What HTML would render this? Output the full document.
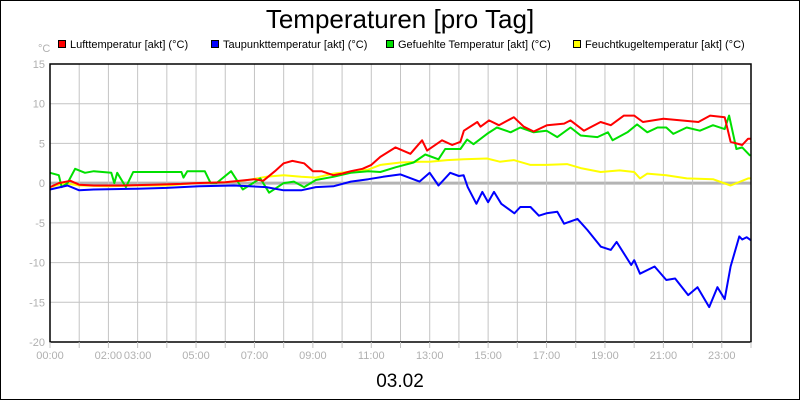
<!DOCTYPE html>
<html><head><meta charset="utf-8"><style>
html,body{margin:0;padding:0;background:#fff}
svg{display:block;font-family:"Liberation Sans",sans-serif}
</style></head><body>
<svg id="chart" width="800" height="400" viewBox="0 0 800 400" xmlns="http://www.w3.org/2000/svg">
<rect x="0.5" y="0.5" width="799" height="399" fill="#fff" stroke="#000"/>
<text x="400" y="28" font-size="26" text-anchor="middle">Temperaturen [pro Tag]</text>
<text x="38" y="52" font-size="11" fill="#b0b0b0">°C</text>
<g id="legend"></g>
<g id="grid"></g>
<g id="series"></g>
<rect x="50" y="64" width="701" height="278" fill="none" stroke="#000" stroke-width="1.5"/>
<g id="axes"></g>
<text x="400" y="387" font-size="19" text-anchor="middle">03.02</text>
</svg>
<script>
const yTicks = [15, 10, 5, 0, -5, -10, -15, -20];
const xTickLabels = ["00:00","","02:00","03:00","","05:00","","07:00","","09:00","","11:00","","13:00","","15:00","","17:00","","19:00","","21:00","","23:00",""];
const seriesNames = ["Lufttemperatur [akt] (°C)","Taupunkttemperatur [akt] (°C)","Gefuehlte Temperatur [akt] (°C)","Feuchtkugeltemperatur [akt] (°C)"];
const seriesColors = ["#ff0000","#0000ff","#00e000","#ffff00"];

const redT = [0,0.3,0.7,1.0,1.5,2.5,3.5,4.5,5.0,6.0,6.5,7.0,7.3,7.7,8.0,8.3,8.7,9.0,9.3,9.7,10.0,10.3,10.7,11.0,11.31,11.83,12.34,12.74,12.91,13.42,13.77,14.05,14.17,14.63,14.74,15.03,15.37,15.88,16.22,16.56,17.02,17.6,17.82,18.28,18.85,19.2,19.65,20.0,20.3,21.0,21.6,22.2,22.6,23.1,23.3,23.7,23.9,24];
const redV = [-0.5,0,0.3,-0.2,-0.3,-0.3,-0.2,-0.1,0,0.1,0.3,0.5,0.3,1.5,2.5,2.8,2.5,1.5,1.5,1.0,1.2,1.5,1.8,2.3,3.3,4.5,3.7,5.4,4.1,5.4,4.8,5.2,6.6,7.7,7.1,7.9,7.3,8.3,7.1,6.5,7.3,7.5,7.9,6.6,7.7,7.3,8.5,8.5,7.7,8.1,7.9,7.7,8.5,8.3,5.2,4.8,5.6,5.6];

const blueT = [0,0.6,1.0,1.5,3.0,4.0,5.1,6.3,7.4,8.0,8.6,9.1,9.7,10.3,10.9,11.4,12.0,12.65,13.0,13.3,13.7,14.0,14.16,14.3,14.6,14.8,15.0,15.2,15.45,15.9,16.1,16.45,16.74,17.0,17.37,17.6,18.06,18.4,18.86,19.2,19.4,19.9,20.0,20.2,20.7,21.1,21.4,21.85,22.17,22.57,22.85,23.1,23.3,23.6,23.7,23.85,24];
const blueV = [-0.8,-0.3,-0.9,-0.8,-0.7,-0.6,-0.4,-0.3,-0.5,-0.9,-0.9,-0.5,-0.4,0.2,0.5,0.8,1.1,0.2,1.3,-0.3,1.3,0.9,1.0,-0.5,-2.6,-1.1,-2.4,-1.1,-2.6,-3.8,-3.0,-3.0,-4.1,-3.8,-3.6,-5.1,-4.5,-5.9,-8.0,-8.4,-7.4,-10.3,-9.7,-11.4,-10.5,-12.2,-12.0,-14.1,-13.1,-15.6,-13.1,-14.6,-10.5,-6.7,-7.1,-6.8,-7.2];

const greenT = [0,0.3,0.4,0.6,0.86,1.2,1.5,2.1,2.2,2.3,2.6,2.85,4.5,4.57,4.7,5.3,5.5,5.7,6.2,6.6,7.2,7.5,8.0,8.35,8.7,9.1,9.7,10.3,10.9,11.31,11.83,12.45,12.85,13.3,13.53,14.05,14.28,14.5,14.96,15.3,15.77,16.1,16.56,17.0,17.37,17.82,18.17,18.74,19.1,19.26,19.77,20.1,20.45,20.8,21.1,21.34,21.8,22.25,22.7,23.1,23.25,23.5,23.7,23.96,24];
const greenV = [1.3,1.0,-0.5,0,1.8,1.3,1.5,1.3,0,1.3,-0.5,1.4,1.4,0.7,1.5,1.5,0,0,1.5,-0.8,0.6,-1.2,0,0.2,-0.5,0.4,0.8,1.3,1.5,1.4,2.0,2.6,3.6,3.0,4.3,4.3,5.5,4.9,6.2,7.0,6.4,7.0,6.4,6.6,5.8,7.0,6.0,5.8,6.4,5.4,6.4,7.4,6.4,7.0,7.0,6.2,7.0,6.6,7.3,6.8,8.5,4.3,4.5,3.5,3.5];

const yellowT = [0,0.5,1.0,2.0,3.0,4.0,5.0,6.0,6.6,7.4,8.0,8.6,9.1,9.7,10.9,11.31,12.0,12.7,13.0,13.6,14.17,14.96,15.4,15.88,16.45,17.0,17.7,18.17,18.85,19.5,20.0,20.2,20.45,21.1,21.8,22.7,23.3,23.9,24];
const yellowV = [-0.5,0,-0.3,-0.4,-0.3,-0.3,0,0.1,0.3,0.8,1.0,0.8,0.7,1.2,1.7,2.3,2.6,2.7,2.7,2.9,3.0,3.1,2.7,2.9,2.3,2.3,2.4,1.9,1.4,1.6,1.4,0.6,1.2,1.0,0.6,0.5,-0.3,0.6,0.6];

const X0 = 50, X1 = 751, Y0 = 342, Y1 = 64, XMIN = 0, XMAX = 24, YMIN = -20, YMAX = 15;
function xScale(h){ return X0 + (h - XMIN) / (XMAX - XMIN) * (X1 - X0); }
function yScale(v){ return Y0 - (v - YMIN) / (YMAX - YMIN) * (Y0 - Y1); }
const NS = "http://www.w3.org/2000/svg";
function mk(tag, attrs, parent){ const e = document.createElementNS(NS, tag); for (const k in attrs) e.setAttribute(k, attrs[k]); parent.appendChild(e); return e; }

const grid = document.getElementById('grid');
const axes = document.getElementById('axes');
yTicks.forEach(v => {
  const y = yScale(v);
  const l = mk('line', {x1:X0, x2:X1, y1:y, y2:y, stroke: v===0 ? '#b4b4b4' : '#c4c4c4', 'stroke-width': v===0 ? 3 : 1}, grid);
  
  
  const t = mk('text', {x:45, y:y+4, 'font-size':11, fill:'#b0b0b0', 'text-anchor':'end'}, axes);
  t.textContent = String(v);
  
  
});
xTickLabels.forEach((lab, i) => {
  const x = xScale(i);
  if (i > 0 && i < 24) {
    const g = mk('line', {x1:x, x2:x, y1:Y1, y2:Y0, stroke:'#c4c4c4', 'stroke-width':1}, grid);
    
    
  }
  const tk = mk('line', {x1:x, x2:x, y1:Y0, y2:Y0+6, stroke:'#c4c4c4', 'stroke-width':1}, axes);
  
  
  if (lab) {
    const t = mk('text', {x:x, y:Y0+17, 'font-size':11, fill:'#b0b0b0', 'text-anchor':'middle'}, axes);
    t.textContent = lab;
    
    
  }
});

const seriesT = [redT, blueT, greenT, yellowT];
const seriesV = [redV, blueV, greenV, yellowV];
const sg = document.getElementById('series');
const drawOrder = [3, 2, 0, 1];
drawOrder.forEach(i => {
  const pts = seriesT[i].map((t, j) => xScale(t).toFixed(1) + ',' + yScale(seriesV[i][j]).toFixed(1)).join(' ');
  const p = mk('polyline', {points:pts, fill:'none', stroke:seriesColors[i], 'stroke-width':2, 'stroke-linejoin':'round'}, sg);
  
  
});

const leg = document.getElementById('legend');
const legX = [58, 211, 386, 573];
seriesNames.forEach((n, i) => {
  const r = mk('rect', {x:legX[i]+0.5, y:40.5, width:7, height:7, fill:seriesColors[i], stroke:'#000'}, leg);
  
  
  const t = mk('text', {x:legX[i]+12, y:48, 'font-size':11}, leg);
  t.textContent = n;
  
  
});
</script>
</body></html>
